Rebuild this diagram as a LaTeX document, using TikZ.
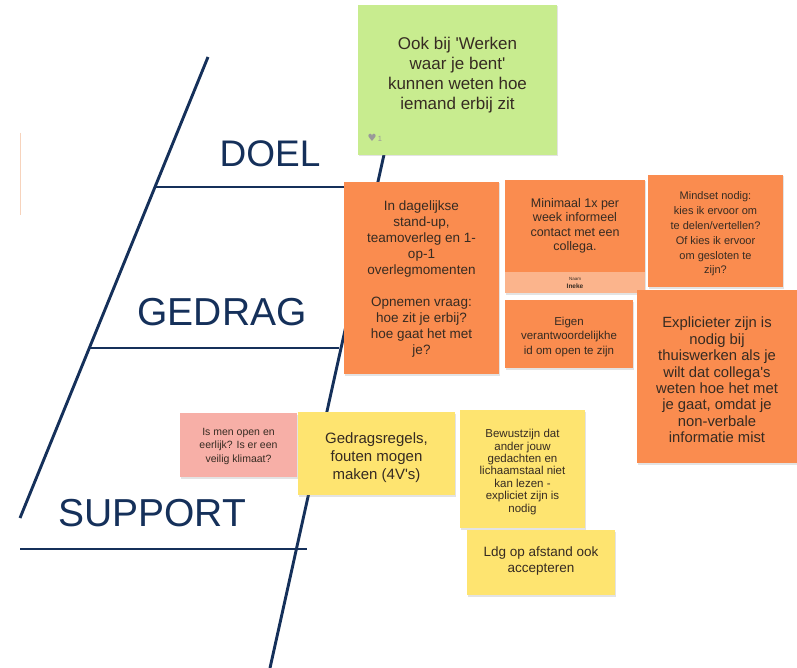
\documentclass[tikz,border=0pt]{standalone}
\usepackage{fontspec}
\setmainfont{Liberation Sans}
\newfontfamily\dejavu{DejaVu Sans}
\usetikzlibrary{shadows}
\definecolor{navy}{HTML}{15305A}
\definecolor{stgreen}{HTML}{C8EC8F}
\definecolor{storange}{HTML}{FA8C4F}
\definecolor{ststrip}{HTML}{FBB48C}
\definecolor{stpink}{HTML}{F7AFA7}
\definecolor{styellow}{HTML}{FEE470}
\definecolor{txtc}{HTML}{362B22}
\definecolor{edgepeach}{HTML}{F7D3BC}
\begin{document}
\begin{tikzpicture}[x=1pt,y=-1pt,
  spine/.style={draw=navy, line width=2.9pt},
  cat/.style={text=navy, inner sep=0pt},
  sticky/.style={rectangle, inner sep=0pt, draw=none,
    drop shadow={opacity=0.22, shadow xshift=1pt, shadow yshift=-1.5pt}},
  note/.style={text=txtc, align=center, inner sep=0pt}]
\useasboundingbox (0,0) rectangle (797,668);
\fill[white] (0,0) rectangle (797,668);

% fishbone lines
\coordinate (lt) at (208,57);
\coordinate (lb) at (20,518);
\coordinate (rt) at (405,60);
\coordinate (rb) at (270,668);
\coordinate (d1) at (155,187);
\coordinate (d2) at (346,187);
\coordinate (g1) at (89,348);
\coordinate (g2) at (339,348);
\coordinate (s1) at (20,549);
\coordinate (s2) at (307,549);
\draw[spine] (lt) -- (lb);
\draw[spine] (rt) -- (rb);
\draw[spine] (d1) -- (d2);
\draw[spine] (g1) -- (g2);
\draw[spine] (s1) -- (s2);
\coordinate (e1) at (20,133);
\coordinate (e2) at (20,215);
\draw[edgepeach, line width=1pt] (e1) -- (e2);

% category labels
\node[cat, font=\fontsize{37}{40}\selectfont] (doel) at (270,154) {DOEL};
\node[cat, font=\fontsize{39}{42}\selectfont] (gedrag) at (222,312) {GEDRAG};
\node[cat, font=\fontsize{39}{42}\selectfont] (support) at (152,513) {SUPPORT};

% stickies
\node[sticky, fill=stgreen, minimum width=199, minimum height=150] (green) at (457.5,80) {};
\node[note, font=\fontsize{17}{20}\selectfont] (greent) at (457.5,75) {Ook bij \textquotesingle Werken\\waar je bent\textquotesingle\\kunnen weten hoe\\iemand erbij zit};
\node[text=gray!80, inner sep=0pt, font=\dejavu\fontsize{10}{11}\selectfont] (heart) at (372,138) {♥};
\node[text=gray!80, inner sep=0pt, font=\fontsize{7.5}{8}\selectfont] (likes) at (380,138.5) {1};

\node[sticky, fill=storange, minimum width=155, minimum height=192] (o1) at (421.5,278) {};
\node[note, font=\fontsize{13.5}{16}\selectfont] (o1t) at (421.5,279) {In dagelijkse\\stand-up,\\teamoverleg en 1-\\op-1\\overlegmomenten\\[16pt]Opnemen vraag:\\hoe zit je erbij?\\hoe gaat het met\\je?};

\node[sticky, fill=storange, minimum width=140, minimum height=113] (o2) at (575,236.5) {};
\node[fill=ststrip, inner sep=0pt, minimum width=140, minimum height=21] (o2s) at (575,282.5) {};
\node[note, font=\fontsize{12.5}{14.5}\selectfont] (o2t) at (575,226) {Minimaal 1x per\\week informeel\\contact met een\\collega.};
\node[note, font=\fontsize{4.5}{5}\selectfont] (o2n) at (575,278.5) {Naam};
\node[note, font=\bfseries\fontsize{6.5}{7}\selectfont] (o2v) at (575,286.5) {Ineke};

\node[sticky, fill=storange, minimum width=135, minimum height=112] (o3) at (715.5,231) {};
\node[note, font=\fontsize{11}{14.8}\selectfont] (o3t) at (715.5,234) {Mindset nodig:\\kies ik ervoor om\\te delen/vertellen?\\Of kies ik ervoor\\om gesloten te\\zijn?};

\node[sticky, fill=storange, minimum width=128, minimum height=68] (o4) at (569,334) {};
\node[note, font=\fontsize{11.5}{14.5}\selectfont] (o4t) at (569,337) {Eigen\\verantwoordelijkhe\\id om open te zijn};

\node[sticky, fill=storange, minimum width=162, minimum height=173] (o5) at (718,376.5) {};
\node[note, font=\fontsize{14.8}{16.4}\selectfont] (o5t) at (717,380) {Explicieter zijn is\\nodig bij\\thuiswerken als je\\wilt dat collega\textquotesingle s\\weten hoe het met\\je gaat, omdat je\\non-verbale\\informatie mist};

\node[sticky, fill=stpink, minimum width=117, minimum height=64] (p1) at (238.5,445) {};
\node[note, font=\fontsize{10.5}{13.5}\selectfont] (p1t) at (238.5,446) {Is men open en\\eerlijk? Is er een\\veilig klimaat?};

\node[sticky, fill=styellow, minimum width=157, minimum height=83] (y1) at (376.5,453.5) {};
\node[note, font=\fontsize{15}{18}\selectfont] (y1t) at (376.5,458) {Gedragsregels,\\fouten mogen\\maken (4V\textquotesingle s)};

\node[sticky, fill=styellow, minimum width=125, minimum height=118] (y2) at (522.5,469) {};
\node[note, font=\fontsize{11.5}{12.4}\selectfont] (y2t) at (522.5,472) {Bewustzijn dat\\ander jouw\\gedachten en\\lichaamstaal niet\\kan lezen -\\expliciet zijn is\\nodig};

\node[sticky, fill=styellow, minimum width=148, minimum height=65] (y3) at (541,562.5) {};
\node[note, font=\fontsize{13.5}{16}\selectfont] (y3t) at (541,561) {Ldg op afstand ook\\accepteren};
\end{tikzpicture}
\end{document}
